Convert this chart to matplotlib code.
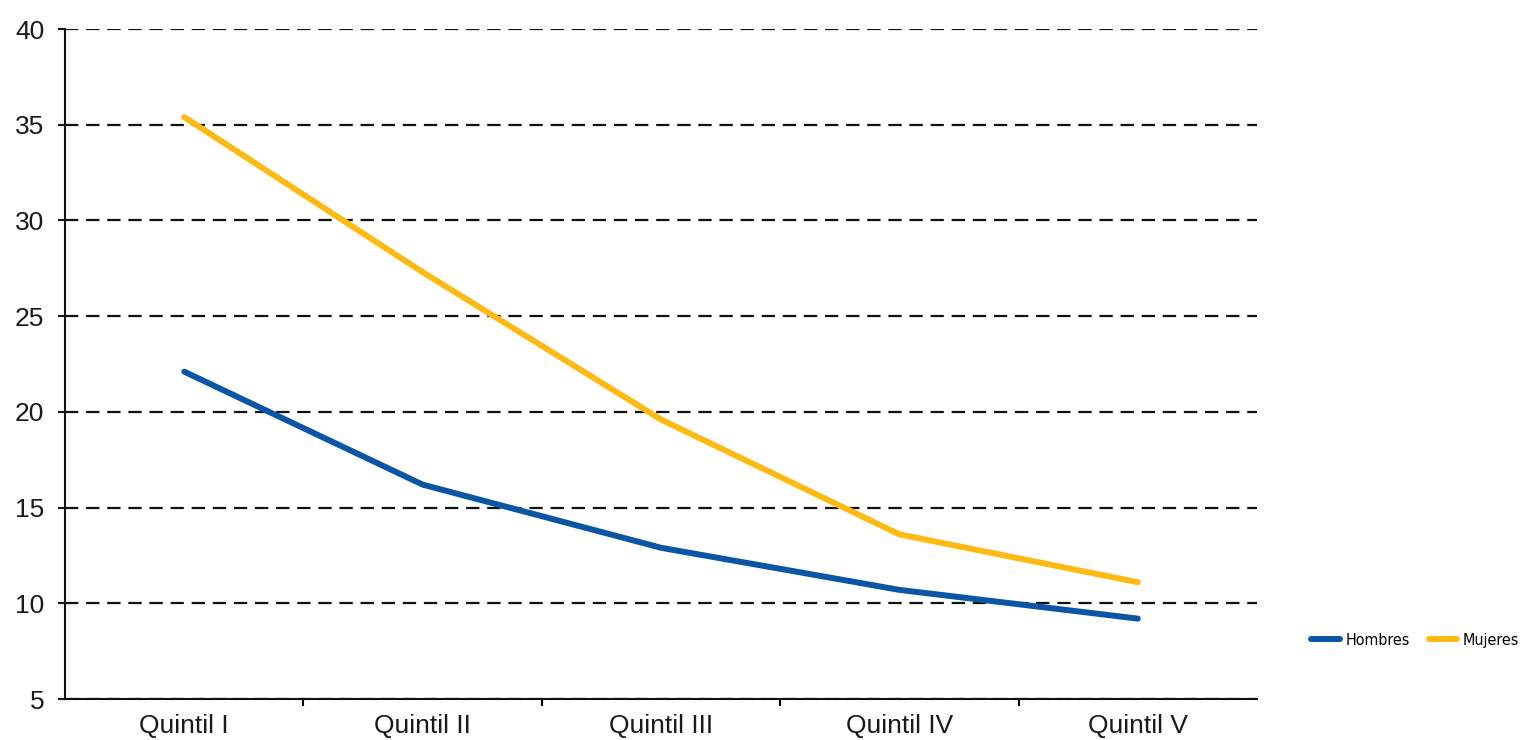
import matplotlib.pyplot as plt
from matplotlib.ticker import FixedLocator

# Datos
categorias = ['Quintil I', 'Quintil II', 'Quintil III', 'Quintil IV', 'Quintil V']
hombres = [22.1, 16.2, 12.9, 10.7, 9.2]
mujeres = [35.4, 27.3, 19.6, 13.6, 11.1]

plt.rcParams['font.family'] = ['Liberation Sans', 'DejaVu Sans']

fig = plt.figure(figsize=(15.27, 7.40), dpi=100)
ax = fig.add_axes([0.0426, 0.0554, 0.7806, 0.9054])

x = range(len(categorias))
ax.plot(x, hombres, color='#0B55A6', lw=4.3, solid_capstyle='round', label='Hombres')
ax.plot(x, mujeres, color='#FDBA12', lw=4.3, solid_capstyle='round', label='Mujeres')

ax.set_xlim(-0.5, 4.5)
ax.set_ylim(5, 40)
ax.set_yticks(range(5, 45, 5))
ax.set_xticks(list(x))
ax.set_xticklabels(categorias)
ax.xaxis.set_minor_locator(FixedLocator([0.5, 1.5, 2.5, 3.5]))
ax.tick_params(axis='x', which='major', length=0, pad=11, labelsize=19, colors='#1a1a1a')
ax.tick_params(axis='x', which='minor', length=5, width=1.5, direction='out')
ax.tick_params(axis='y', length=5, width=1.5, pad=10, labelsize=19, colors='#1a1a1a')

ax.grid(axis='y', color='#111111', linestyle=(0, (6, 3.5)), linewidth=1.6)
ax.set_axisbelow(True)
for s in ['top', 'right']:
    ax.spines[s].set_visible(False)
for s in ['left', 'bottom']:
    ax.spines[s].set_linewidth(1.5)
    ax.spines[s].set_color('#111111')

fig.legend(loc='center left', bbox_to_anchor=(0.849, 0.135), ncol=2, frameon=False,
           handlelength=1.8, columnspacing=1.2, handletextpad=0.35,
           prop={'family': ['DejaVu Sans'], 'stretch': 'condensed', 'size': 11.5})

fig.savefig('out.png', dpi=100)
